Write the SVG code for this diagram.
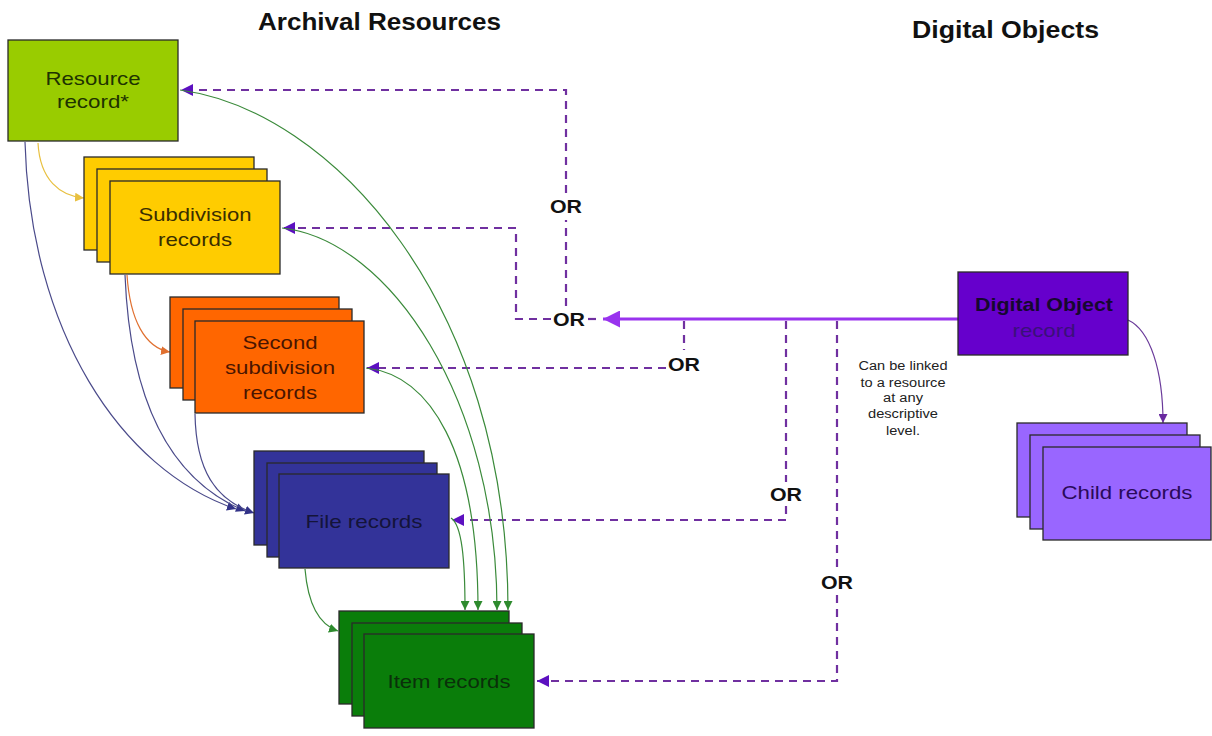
<svg xmlns="http://www.w3.org/2000/svg" width="1212" height="736" viewBox="0 0 1212 736">
<style>
text{font-family:"Liberation Sans",Arial,sans-serif}
.title{font-size:23px;font-weight:bold;fill:#111}
.lbl{font-size:19px;text-anchor:middle}
.or{font-size:19px;font-weight:bold;fill:#111;text-anchor:middle}
.note{font-size:12.5px;fill:#222;text-anchor:middle}
.box{stroke:#2a2a2a;stroke-width:1.3}
.dash{fill:none;stroke:#7030a0;stroke-width:2.2;stroke-dasharray:8 6}
.thin{fill:none;stroke-width:1.2}
</style>
<defs>
<marker id="mP" viewBox="0 0 10 10" refX="10" refY="5" markerWidth="14" markerHeight="12" markerUnits="userSpaceOnUse" orient="auto"><path d="M0,0 L10,5 L0,10 z" fill="#5c10c0"/></marker>
<marker id="mBig" viewBox="0 0 10 10" refX="10" refY="5" markerWidth="17" markerHeight="17" markerUnits="userSpaceOnUse" orient="auto"><path d="M0,0 L10,5 L0,10 z" fill="#9933ee"/></marker>
<marker id="mG" viewBox="0 0 10 10" refX="10" refY="5" markerWidth="9" markerHeight="9" markerUnits="userSpaceOnUse" orient="auto"><path d="M0,0 L10,5 L0,10 z" fill="#2e8b2e"/></marker>
<marker id="mN" viewBox="0 0 10 10" refX="10" refY="5" markerWidth="9" markerHeight="9" markerUnits="userSpaceOnUse" orient="auto"><path d="M0,0 L10,5 L0,10 z" fill="#333388"/></marker>
<marker id="mY" viewBox="0 0 10 10" refX="10" refY="5" markerWidth="9" markerHeight="9" markerUnits="userSpaceOnUse" orient="auto"><path d="M0,0 L10,5 L0,10 z" fill="#e8c040"/></marker>
<marker id="mO" viewBox="0 0 10 10" refX="10" refY="5" markerWidth="9" markerHeight="9" markerUnits="userSpaceOnUse" orient="auto"><path d="M0,0 L10,5 L0,10 z" fill="#e07030"/></marker>
<marker id="mV" viewBox="0 0 10 10" refX="10" refY="5" markerWidth="9" markerHeight="9" markerUnits="userSpaceOnUse" orient="auto"><path d="M0,0 L10,5 L0,10 z" fill="#6a2aa0"/></marker>
</defs>
<rect width="1212" height="736" fill="#fff"/>

<text class="title" x="258" y="30" textLength="243" lengthAdjust="spacingAndGlyphs">Archival Resources</text>
<text class="title" x="912" y="38" textLength="187" lengthAdjust="spacingAndGlyphs">Digital Objects</text>

<g id="connectors">
  <!-- dashed OR links -->
  <path class="dash" d="M566,306 V220"/>
  <path class="dash" d="M566,193 V90 H181" marker-end="url(#mP)"/>
  <path class="dash" d="M551,319 H516 V228 H283" marker-end="url(#mP)"/>
  <path class="dash" d="M588,319 H600"/>
  <path class="dash" d="M684,321 V350"/>
  <path class="dash" d="M666,368 H367" marker-end="url(#mP)"/>
  <path class="dash" d="M786,321 V482"/>
  <path class="dash" d="M786,506 V520 H452" marker-end="url(#mP)"/>
  <path class="dash" d="M837,321 V570"/>
  <path class="dash" d="M837,595 V681 H537" marker-end="url(#mP)"/>
  <!-- main solid link -->
  <path d="M958,319 H603" fill="none" stroke="#9933ee" stroke-width="3" marker-end="url(#mBig)"/>
  <!-- green curves to item records -->
  <path class="thin" stroke="#3a8a3a" d="M180,90 C330,110 508,300 508,610" marker-end="url(#mG)"/>
  <path class="thin" stroke="#3a8a3a" d="M282,228 C390,240 497,400 497,610" marker-end="url(#mG)"/>
  <path class="thin" stroke="#3a8a3a" d="M366,368 C430,375 478,450 478,610" marker-end="url(#mG)"/>
  <path class="thin" stroke="#3a8a3a" d="M451,518 C462,525 465,560 465,610" marker-end="url(#mG)"/>
  <path class="thin" stroke="#3a8a3a" d="M305,569 C308,605 320,625 338,631" marker-end="url(#mG)"/>
  <!-- navy curves to file records -->
  <path class="thin" stroke="#4a4a8a" d="M25,142 C30,330 120,470 236,509" marker-end="url(#mN)"/>
  <path class="thin" stroke="#4a4a8a" d="M125,275 C130,400 170,480 245,511" marker-end="url(#mN)"/>
  <path class="thin" stroke="#4a4a8a" d="M195,414 C196,470 215,500 254,513" marker-end="url(#mN)"/>
  <!-- yellow and orange -->
  <path class="thin" stroke="#e8c040" d="M38,143 C40,180 60,196 84,198" marker-end="url(#mY)"/>
  <path class="thin" stroke="#e07030" d="M127,275 C130,320 145,348 170,352" marker-end="url(#mO)"/>
  <!-- digital object to children -->
  <path class="thin" stroke="#6a3a9a" d="M1128,320 C1150,330 1163,370 1163,423" marker-end="url(#mV)"/>
</g>

<g id="resource-record">
  <rect class="box" x="8" y="40" width="170" height="101" fill="#99cc00"/>
  <text class="lbl" x="93" y="85" fill="#1e3300" textLength="95" lengthAdjust="spacingAndGlyphs">Resource</text>
  <text class="lbl" x="93" y="108" fill="#1e3300" textLength="72" lengthAdjust="spacingAndGlyphs">record*</text>
</g>

<g id="subdivision-records">
  <rect class="box" x="84" y="157" width="170" height="93" fill="#ffcc00"/>
  <rect class="box" x="97" y="169" width="170" height="93" fill="#ffcc00"/>
  <rect class="box" x="110" y="181" width="170" height="93" fill="#ffcc00"/>
  <text class="lbl" x="195" y="221" fill="#3a2e00" textLength="113" lengthAdjust="spacingAndGlyphs">Subdivision</text>
  <text class="lbl" x="195" y="246" fill="#3a2e00" textLength="74" lengthAdjust="spacingAndGlyphs">records</text>
</g>

<g id="second-subdivision-records">
  <rect class="box" x="170" y="297" width="169" height="91" fill="#ff6600"/>
  <rect class="box" x="183" y="309" width="169" height="91" fill="#ff6600"/>
  <rect class="box" x="195" y="321" width="169" height="92" fill="#ff6600"/>
  <text class="lbl" x="280" y="349" fill="#4a1500" textLength="75" lengthAdjust="spacingAndGlyphs">Second</text>
  <text class="lbl" x="280" y="374" fill="#4a1500" textLength="110" lengthAdjust="spacingAndGlyphs">subdivision</text>
  <text class="lbl" x="280" y="399" fill="#4a1500" textLength="74" lengthAdjust="spacingAndGlyphs">records</text>
</g>

<g id="file-records">
  <rect class="box" x="254" y="451" width="170" height="94" fill="#333399"/>
  <rect class="box" x="267" y="463" width="170" height="94" fill="#333399"/>
  <rect class="box" x="279" y="474" width="170" height="94" fill="#333399"/>
  <text class="lbl" x="364" y="528" fill="#14143a" textLength="117" lengthAdjust="spacingAndGlyphs">File records</text>
</g>

<g id="item-records">
  <rect class="box" x="339" y="611" width="170" height="93" fill="#0a7d0a"/>
  <rect class="box" x="352" y="623" width="170" height="93" fill="#0a7d0a"/>
  <rect class="box" x="364" y="634" width="170" height="94" fill="#0a7d0a"/>
  <text class="lbl" x="449" y="688" fill="#0a300a" textLength="123" lengthAdjust="spacingAndGlyphs">Item records</text>
</g>

<g id="digital-object-record">
  <rect class="box" x="958" y="272" width="170" height="83" fill="#6600cc"/>
  <text class="lbl" x="1044" y="311" fill="#160830" font-weight="bold" textLength="138" lengthAdjust="spacingAndGlyphs">Digital Object</text>
  <text class="lbl" x="1044" y="337" fill="#3a107a" textLength="63" lengthAdjust="spacingAndGlyphs">record</text>
</g>

<g id="child-records">
  <rect class="box" x="1017" y="423" width="170" height="94" fill="#9966ff"/>
  <rect class="box" x="1030" y="435" width="170" height="94" fill="#9966ff"/>
  <rect class="box" x="1043" y="447" width="168" height="93" fill="#9966ff"/>
  <text class="lbl" x="1127" y="499" fill="#2a0a5a" textLength="131" lengthAdjust="spacingAndGlyphs">Child records</text>
</g>

<g id="or-labels">
  <text class="or" x="566" y="213" textLength="32" lengthAdjust="spacingAndGlyphs">OR</text>
  <text class="or" x="569" y="326" textLength="32" lengthAdjust="spacingAndGlyphs">OR</text>
  <text class="or" x="684" y="371" textLength="32" lengthAdjust="spacingAndGlyphs">OR</text>
  <text class="or" x="786" y="501" textLength="32" lengthAdjust="spacingAndGlyphs">OR</text>
  <text class="or" x="837" y="589" textLength="32" lengthAdjust="spacingAndGlyphs">OR</text>
</g>

<g id="note">
  <text class="note" x="903" y="370" textLength="89" lengthAdjust="spacingAndGlyphs">Can be linked</text>
  <text class="note" x="903" y="387" textLength="85" lengthAdjust="spacingAndGlyphs">to a resource</text>
  <text class="note" x="903" y="402" textLength="40" lengthAdjust="spacingAndGlyphs">at any</text>
  <text class="note" x="903" y="418" textLength="70" lengthAdjust="spacingAndGlyphs">descriptive</text>
  <text class="note" x="903" y="435" textLength="34" lengthAdjust="spacingAndGlyphs">level.</text>
</g>
</svg>
